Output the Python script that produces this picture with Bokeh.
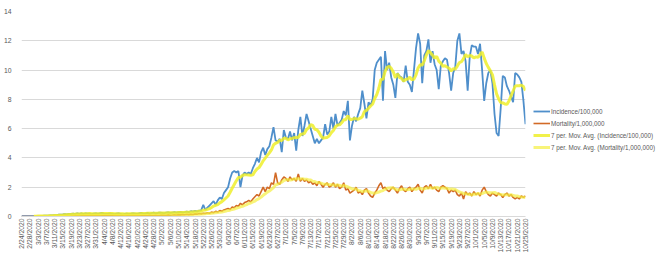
import numpy as np
import pandas as pd
from bokeh.plotting import figure
from bokeh.models import FixedTicker, Legend, LegendItem, Range1d
from bokeh.embed import file_html
from bokeh.resources import INLINE

# ---- data -------------------------------------------------------------
start_date = "2020-02-24"
n_days = 245
dates = pd.date_range(start_date, periods=n_days)
date_labels = [f"{d.month}/{d.day}/{d.year}" for d in dates]

incidence = [
    0.02, 0.02, 0.02, 0.02, 0.03, 0.02, 0.03, 0.03, 0.04, 0.03,
    0.04, 0.05, 0.05, 0.06, 0.07, 0.08, 0.09, 0.10, 0.12, 0.13,
    0.14, 0.16, 0.15, 0.18, 0.17, 0.20, 0.16, 0.21, 0.18, 0.22,
    0.17, 0.22, 0.20, 0.19, 0.16, 0.20, 0.22, 0.18, 0.21, 0.24,
    0.20, 0.18, 0.19, 0.22, 0.17, 0.16, 0.19, 0.21, 0.18, 0.15,
    0.18, 0.20, 0.17, 0.19, 0.22, 0.20, 0.18, 0.21, 0.24, 0.20,
    0.22, 0.25, 0.20, 0.23, 0.26, 0.22, 0.24, 0.27, 0.25, 0.22,
    0.26, 0.28, 0.24, 0.27, 0.30, 0.26, 0.29, 0.32, 0.28, 0.30,
    0.34, 0.30, 0.36, 0.33, 0.38, 0.35, 0.40, 0.42, 0.80, 0.45,
    0.60, 0.75, 0.90, 1.05, 0.80, 1.10, 1.30, 1.20, 1.60, 1.80,
    2.00, 2.60, 3.00, 3.10, 3.00, 3.10, 2.00, 2.80, 3.00, 2.90,
    3.00, 2.90, 3.30, 3.60, 4.00, 3.70, 4.40, 4.70, 4.20, 4.60,
    4.80, 5.40, 6.10, 5.20, 5.10, 5.30, 4.40, 5.90, 5.40, 5.30,
    5.80, 5.20, 5.70, 4.50, 5.90, 6.80, 5.50, 6.20, 7.00, 6.50,
    6.00, 5.50, 5.00, 5.30, 5.00, 5.20, 5.40, 6.30, 5.60, 5.80,
    6.80, 6.00, 7.00, 6.20, 6.40, 6.60, 7.20, 6.90, 7.90, 5.20,
    6.20, 6.80, 6.50, 7.00, 7.40, 8.60, 7.70, 6.70, 7.80, 7.60,
    8.00, 10.0, 10.5, 10.7, 10.9, 7.90, 11.3, 10.0, 10.5, 9.50,
    9.00, 8.10, 9.80, 9.60, 9.50, 9.20, 10.3, 9.20, 9.00, 8.50,
    10.0, 11.5, 12.5, 11.8, 9.10, 11.0, 11.3, 12.1, 10.5, 11.3,
    10.4, 10.0, 8.70, 10.3, 10.6, 10.8, 10.7, 9.80, 8.60, 9.80,
    10.2, 12.0, 12.5, 11.1, 11.3, 10.6, 8.60, 10.9, 11.7, 11.6,
    11.6, 11.1, 11.8, 10.0, 7.90, 9.10, 9.80, 10.0, 9.10, 7.00,
    5.70, 5.50, 7.40, 9.60, 9.50, 8.90, 8.60, 8.20, 7.80, 9.80,
    9.70, 9.50, 9.20, 7.90, 6.30,
]

mortality = [
    0.00, 0.00, 0.00, 0.00, 0.00, 0.00, 0.00, 0.00, 0.00, 0.00,
    0.00, 0.00, 0.00, 0.00, 0.01, 0.01, 0.01, 0.02, 0.02, 0.02,
    0.03, 0.03, 0.04, 0.04, 0.05, 0.05, 0.06, 0.05, 0.06, 0.07,
    0.06, 0.07, 0.06, 0.08, 0.07, 0.06, 0.08, 0.07, 0.06, 0.08,
    0.07, 0.06, 0.08, 0.06, 0.07, 0.08, 0.06, 0.07, 0.05, 0.07,
    0.06, 0.07, 0.05, 0.06, 0.08, 0.06, 0.05, 0.07, 0.06, 0.05,
    0.07, 0.06, 0.08, 0.06, 0.07, 0.09, 0.07, 0.08, 0.10, 0.08,
    0.09, 0.11, 0.09, 0.10, 0.12, 0.10, 0.13, 0.11, 0.14, 0.12,
    0.15, 0.13, 0.16, 0.14, 0.18, 0.16, 0.20, 0.18, 0.22, 0.20,
    0.25, 0.22, 0.30, 0.26, 0.35, 0.30, 0.40, 0.36, 0.45, 0.50,
    0.55, 0.48, 0.65, 0.60, 0.75, 0.70, 0.90, 0.80, 0.95, 1.00,
    1.10, 1.00, 1.20, 1.35, 1.50, 1.40, 1.70, 2.00, 1.70, 2.00,
    1.90, 2.30, 2.20, 3.00, 2.30, 2.20, 2.50, 2.70, 2.60, 2.40,
    2.70, 2.50, 2.60, 2.40, 2.90, 2.40, 2.60, 2.40, 2.50, 2.30,
    2.40, 2.20, 2.30, 2.10, 2.40, 2.20, 2.00, 2.20, 2.30, 2.00,
    2.10, 2.30, 2.00, 2.20, 1.90, 2.00, 2.30, 1.80, 1.90, 1.60,
    1.70, 1.80, 2.00, 1.60, 1.70, 1.50, 1.80, 1.90, 1.60, 1.40,
    1.30, 1.60, 1.80, 2.10, 2.30, 1.90, 2.00, 1.80, 1.70, 1.90,
    2.00, 1.80, 1.60, 1.90, 2.10, 1.80, 1.70, 1.90, 2.00, 1.70,
    1.90, 2.00, 2.20, 1.80, 1.60, 2.00, 2.10, 1.90, 2.20, 1.90,
    2.00, 1.80, 1.70, 2.00, 2.10, 2.00, 1.90, 1.60, 1.80, 1.70,
    1.80, 1.50, 1.40, 1.60, 1.20, 1.70, 1.50, 1.60, 1.40, 1.70,
    1.50, 1.60, 1.40, 1.80, 2.00, 1.70, 1.50, 1.40, 1.60, 1.50,
    1.40, 1.60, 1.50, 1.30, 1.50, 1.60, 1.40, 1.50, 1.30, 1.20,
    1.30, 1.20, 1.40, 1.30, 1.40,
]

y_ticks = [0, 2, 4, 6, 8, 10, 12, 14]
label_every = 4
ma_period = 7

series_names = [
    "Incidence/100,000",
    "Mortality/1,000,000",
    "7 per. Mov. Avg. (Incidence/100,000)",
    "7 per. Mov. Avg. (Mortality/1,000,000)",
]

# ---- derived (Excel moving-average trendlines) -------------------------
x = np.arange(n_days)
def moving_avg(v, n):
    v = np.asarray(v, dtype=float)
    return np.convolve(v, np.ones(n) / n, mode="valid")

ma_inc = moving_avg(incidence, ma_period)
ma_mor = moving_avg(mortality, ma_period)
x_ma = x[ma_period - 1:]

# ---- figure -------------------------------------------------------------
FONT = "Liberation Sans"
GRAY_TXT = "#595959"
GRID = "#D9D9D9"

p = figure(frame_width=504, frame_height=205, output_backend="svg",
           toolbar_location=None,
           x_range=Range1d(0, n_days - 1), y_range=Range1d(0, 14),
           min_border_left=13, min_border_right=0, min_border_top=11,
           min_border_bottom=36)
p.outline_line_color = None
p.background_fill_color = "white"
p.border_fill_color = "white"

# axes
p.yaxis.ticker = FixedTicker(ticks=y_ticks)
p.yaxis.axis_line_color = None
p.yaxis.major_tick_line_color = None
p.yaxis.minor_tick_line_color = None
p.yaxis.major_label_text_font = FONT
p.yaxis.major_label_text_font_size = "6.8px"
p.yaxis.major_label_text_color = GRAY_TXT
p.yaxis.major_label_standoff = 4

tick_idx = list(range(0, n_days, label_every))
p.xaxis.ticker = FixedTicker(ticks=tick_idx)
p.xaxis.major_label_overrides = {i: date_labels[i] for i in tick_idx}
p.xaxis.major_label_orientation = np.pi / 2
p.xaxis.axis_line_color = GRID
p.xaxis.major_tick_line_color = None
p.xaxis.minor_tick_line_color = None
p.xaxis.major_tick_out = 0
p.xaxis.major_tick_in = 0
p.xaxis.major_label_text_font = FONT
p.xaxis.major_label_text_font_size = "6.8px"
p.xaxis.major_label_text_color = GRAY_TXT
p.xaxis.major_label_standoff = 2

p.xgrid.grid_line_color = None
p.ygrid.grid_line_color = GRID
p.ygrid.grid_line_width = 1

# lines
r1 = p.line(x, incidence, line_color="#4F8FCB", line_width=1.8)
r2 = p.line(x, mortality, line_color="#D26A26", line_width=1.6)
r3 = p.line(x_ma, ma_inc, line_color="#EEEE2A", line_width=3, line_alpha=0.85)
r4 = p.line(x_ma, ma_mor, line_color="#F5F040", line_width=3, line_alpha=0.7)

legend = Legend(items=[
    LegendItem(label=series_names[0], renderers=[r1]),
    LegendItem(label=series_names[1], renderers=[r2]),
    LegendItem(label=series_names[2], renderers=[r3]),
    LegendItem(label=series_names[3], renderers=[r4]),
], location=(8, 65))
legend.label_text_font = FONT
legend.label_text_font_size = "6.3px"
legend.label_text_color = GRAY_TXT
legend.glyph_width = 17
legend.glyph_height = 8
legend.label_height = 8
legend.label_standoff = 1
legend.spacing = 4
legend.padding = 10
legend.margin = 0
legend.border_line_color = None
legend.background_fill_alpha = 0
p.add_layout(legend, "right")

open("out.html", "w").write(file_html(p, INLINE))
